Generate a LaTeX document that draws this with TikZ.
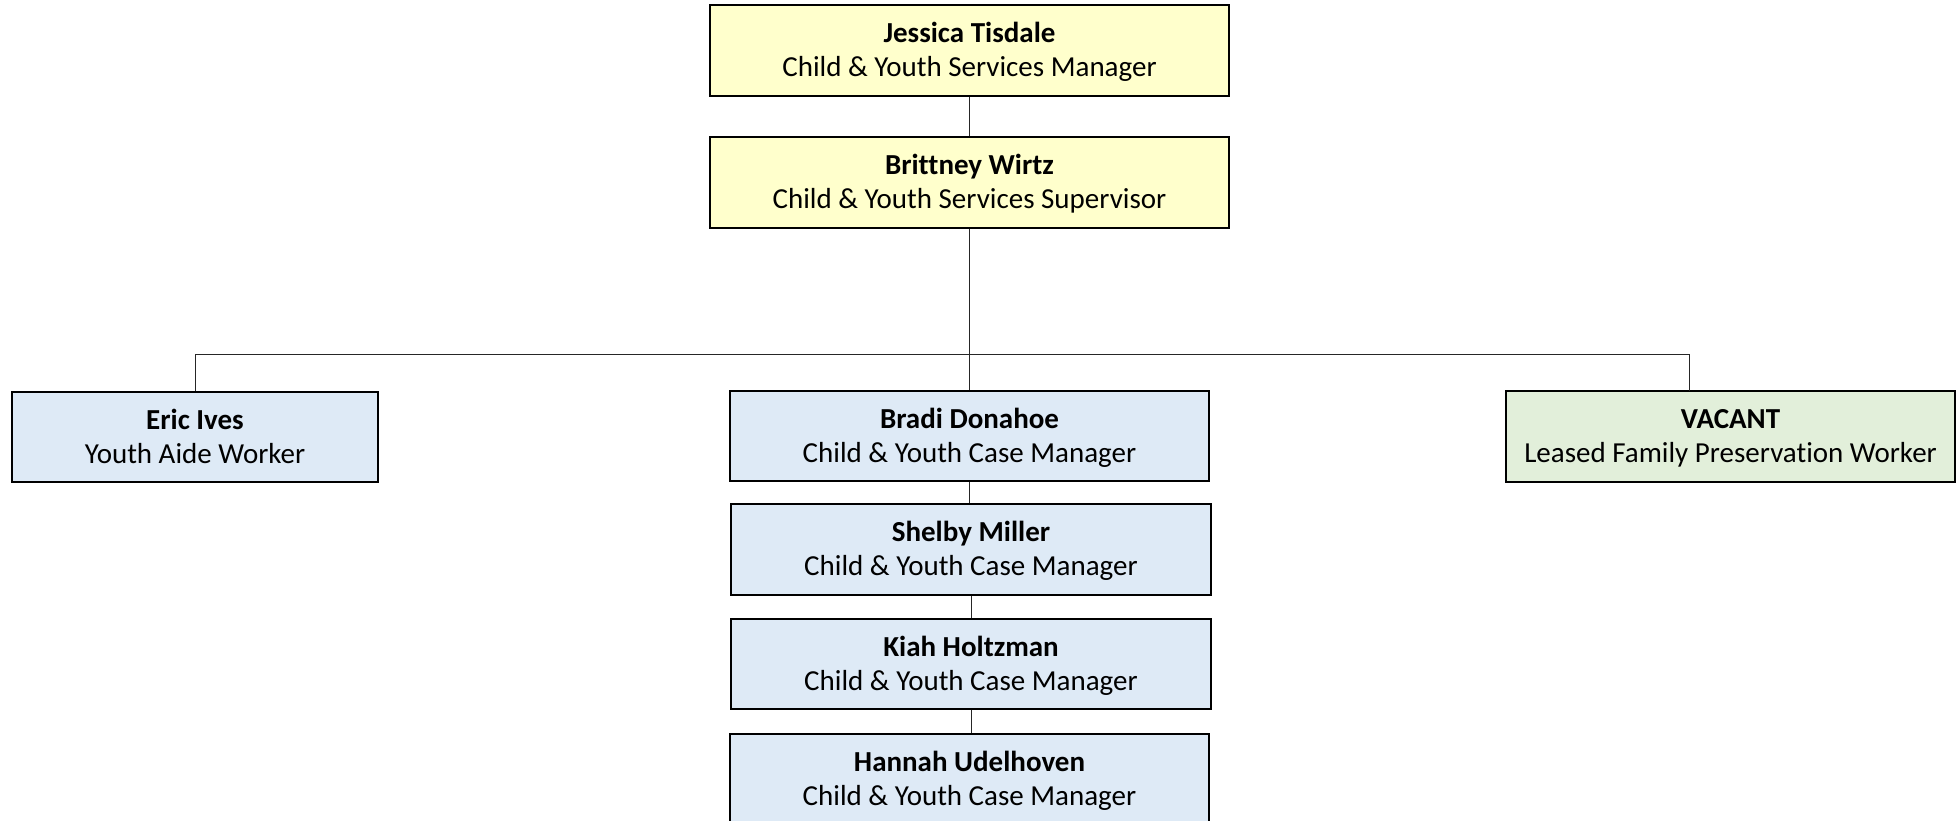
\documentclass[tikz,border=0pt]{standalone}
\usepackage{fontspec}
\setmainfont{Carlito}[Ligatures={NoCommon}]
\definecolor{ybox}{HTML}{FFFFCC}
\definecolor{bbox}{HTML}{DEEAF6}
\definecolor{gbox}{HTML}{E2EFDA}
\newcommand\orgnode[8]{%
  \node[orgbox, fill=#6, minimum width=#4pt, minimum height=#5pt] (#1) at (#2,#3) {};
  \node[nm] (#1-n) at ([yshift=8pt]#1.center) {#7};
  \node[tt] (#1-t) at ([yshift=-26pt]#1.center) {#8};
}
\begin{document}
\begin{tikzpicture}[x=1pt,y=-1pt,
  orgbox/.style={draw=black, line width=1.3pt, rectangle, inner sep=0pt},
  conn/.style={draw=black!85, line width=0.9pt},
  nm/.style={font=\fontsize{29}{34}\selectfont\bfseries, anchor=base, inner sep=0pt},
  tt/.style={font=\fontsize{29}{34}\selectfont, anchor=base, inner sep=0pt}]
\useasboundingbox (0,0) rectangle (1957,821);
\orgnode{jt}{969.5}{50.5}{519}{91}{ybox}{Jessica Tisdale}{Child \& Youth Services Manager}
\orgnode{bw}{969.5}{182.5}{519}{91}{ybox}{Brittney Wirtz}{Child \& Youth Services Supervisor}
\orgnode{ei}{195}{437}{366}{90}{bbox}{Eric Ives}{Youth Aide Worker}
\orgnode{bd}{969.5}{436}{479}{90}{bbox}{Bradi Donahoe}{Child \& Youth Case Manager}
\orgnode{sm}{971}{549.5}{480}{91}{bbox}{Shelby Miller}{Child \& Youth Case Manager}
\orgnode{kh}{971}{664}{480}{90}{bbox}{Kiah Holtzman}{Child \& Youth Case Manager}
\orgnode{hu}{969.5}{779.5}{479}{91}{bbox}{Hannah Udelhoven}{Child \& Youth Case Manager}
\orgnode{va}{1730.5}{436.5}{449}{91}{gbox}{VACANT}{Leased Family Preservation Worker}
\coordinate (bar) at (970,354);
\coordinate (vatop) at (1689,391);
\draw[conn] (jt.south) -- (bw.north);
\draw[conn] (bw.south) -- (bd.north);
\draw[conn] (ei.north) -- (ei.north |- bar) -- (bar -| vatop) -- (vatop);
\draw[conn] (bd.south) -- (bd.south |- sm.north);
\draw[conn] (sm.south) -- (sm.south |- kh.north);
\draw[conn] (kh.south) -- (kh.south |- hu.north);
\end{tikzpicture}
\end{document}
